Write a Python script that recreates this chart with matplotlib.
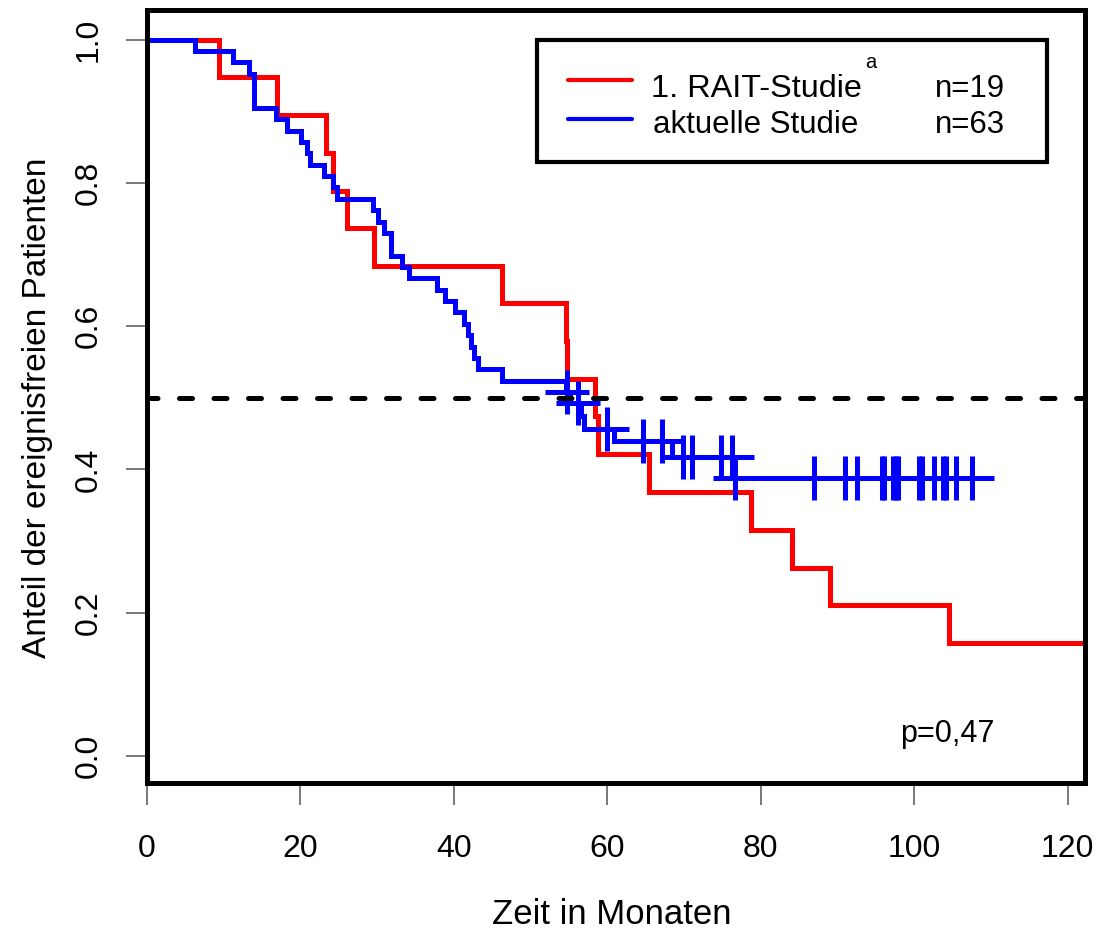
import numpy as np
import matplotlib
matplotlib.use("Agg")
import matplotlib.pyplot as plt
from matplotlib.patches import Rectangle
from matplotlib.lines import Line2D

plt.rcParams['font.family'] = ['Liberation Sans', 'DejaVu Sans']

# 1. RAIT-Studie (n=19): Ereigniszeiten und Anteil danach
red_t = [0, 9.4, 17.0, 23.3, 24.2, 26.1, 29.6, 46.3, 54.6, 54.8, 58.4, 58.8,
         65.4, 78.7, 84.1, 89.0, 104.6]
red_s = [1.0, 0.947, 0.895, 0.842, 0.789, 0.737, 0.684, 0.632, 0.579, 0.526,
         0.474, 0.421, 0.368, 0.316, 0.263, 0.211, 0.158]
red_end = 125

# aktuelle Studie (n=63)
blue_t = [0, 6.3, 11.2, 13.3, 13.95, 16.8, 18.3, 20.1, 20.9, 21.3, 23.1, 24.2,
          24.8, 29.4, 30.1, 30.9, 31.8, 33.2, 34.1, 37.8, 38.9, 40.2, 41.3,
          41.8, 42.2, 42.6, 43.1, 46.3, 54.6, 55.2, 56.6, 57.0, 60.9, 68.5, 76.5]
blue_s = [1.0, 0.984, 0.968, 0.952, 0.905, 0.889, 0.873, 0.857, 0.841, 0.825,
          0.810, 0.794, 0.778, 0.762, 0.746, 0.730, 0.698, 0.683, 0.667, 0.651,
          0.635, 0.619, 0.603, 0.587, 0.571, 0.556, 0.540, 0.524, 0.508, 0.492,
          0.475, 0.457, 0.439, 0.417, 0.388]
blue_cens = [54.7, 56.2, 60.0, 64.6, 67.2, 69.9, 71.0, 74.8, 76.2, 76.7, 87.0,
             91.0, 92.6, 95.8, 96.1, 97.2, 97.7, 97.9, 100.7, 101.0, 102.6,
             103.8, 104.2, 105.5, 107.6]

xticks = [0, 20, 40, 60, 80, 100, 120]
yticks = [0.0, 0.2, 0.4, 0.6, 0.8, 1.0]

W, H = 1117, 931
fig = plt.figure(figsize=(W / 100, H / 100), dpi=100)
ax = fig.add_axes([147 / W, (H - 783) / H, (1085 - 147) / W, (783 - 10) / H])

lw = 3.6
# rot
ax.step(red_t + [red_end], red_s + [red_s[-1]], where='post', color='#ff0000',
        lw=lw, solid_joinstyle='miter')
# blau
bt = blue_t + [blue_cens[-1]]
bs = blue_s + [blue_s[-1]]
ax.step(bt, bs, where='post', color='#0000ff', lw=lw, solid_joinstyle='miter')
idx = np.searchsorted(blue_t, blue_cens, side='right') - 1
cens_s = np.array(blue_s)[idx]
ax.plot(blue_cens, cens_s, ls='none', marker='+', ms=32, mew=lw, color='#0000ff')

ax.axhline(0.5, color='black', lw=lw, ls=(0.5, (2.6, 4.3)), dash_capstyle='round')

ax.set_xlim(0, 122.28)
ax.set_ylim(-0.0377, 1.0412)
ax.set_xticks(xticks)
ax.set_xticklabels([str(v) for v in xticks], fontsize=23)
ax.set_yticks(yticks)
ax.set_yticklabels(['%.1f' % v for v in yticks], fontsize=23, rotation=90, va='center')
ax.tick_params(axis='x', length=16, width=1.1, color='#555555', pad=21)
ax.tick_params(axis='y', length=15, width=1.1, color='#555555', pad=16)
for sp in ax.spines.values():
    sp.set_linewidth(3.6)
    sp.set_color('black')

ax.set_xlabel('Zeit in Monaten', fontsize=25)
ax.xaxis.set_label_coords(0.496, -0.1488)
ax.set_ylabel('Anteil der ereignisfreien Patienten', fontsize=24)
ax.yaxis.set_label_coords(-0.1002, 0.485)

# Legende
ax.add_patch(Rectangle((0.4155, 0.8037), 0.9592 - 0.4155, 0.9612 - 0.8037,
                       transform=ax.transAxes, fill=False, ec='black', lw=3, zorder=5))
ax.add_line(Line2D([0.4488, 0.517], [0.9094, 0.9094], transform=ax.transAxes,
                   color='#ff0000', lw=3, solid_capstyle='round', zorder=5))
ax.add_line(Line2D([0.4488, 0.517], [0.859, 0.859], transform=ax.transAxes,
                   color='#0000ff', lw=3, solid_capstyle='round', zorder=5))
ax.text(0.5378, 0.8878, '1. RAIT-Studie', transform=ax.transAxes, fontsize=23.3,
        va='baseline', ha='left')
ax.text(0.7655, 0.925, 'a', transform=ax.transAxes, fontsize=14.5, va='baseline', ha='left')
ax.text(0.5394, 0.8409, 'aktuelle Studie', transform=ax.transAxes, fontsize=22.5,
        va='baseline', ha='left')
ax.text(0.8401, 0.8878, 'n=19', transform=ax.transAxes, fontsize=22.5, va='baseline', ha='left')
ax.text(0.8401, 0.8409, 'n=63', transform=ax.transAxes, fontsize=22.5, va='baseline', ha='left')

ax.text(0.8028, 0.053, 'p=0,47', transform=ax.transAxes, fontsize=22, va='baseline', ha='left')

fig.savefig('out.png', dpi=100)
